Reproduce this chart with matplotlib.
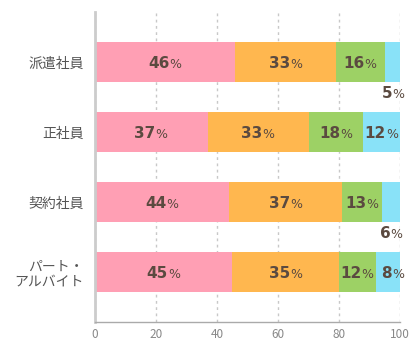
import matplotlib.pyplot as plt
import numpy as np

plt.rcParams['font.family'] = ['Noto Sans CJK JP', 'DejaVu Sans']

categories = ["派遣社員", "正社員", "契約社員", "パート・\nアルバイト"]
series = [
    [46, 37, 44, 45],
    [33, 33, 37, 35],
    [16, 18, 13, 12],
    [5, 12, 6, 8],
]
colors = ["#ff9fb4", "#ffb74f", "#9dd165", "#89e2f8"]
text_color = "#5b4a40"


def pct_label(ax, x, y, value):
    # bold number followed by a lighter, smaller percent sign
    ax.annotate(str(value), (x, y), xytext=(3, -4), textcoords="offset points",
                ha="right", va="baseline", fontsize=11, fontweight="bold",
                color=text_color, family="DejaVu Sans")
    ax.annotate("%", (x, y), xytext=(3, -4), textcoords="offset points",
                ha="left", va="baseline", fontsize=9, color=text_color,
                family="DejaVu Sans")


fig = plt.figure(figsize=(4.18, 3.45), dpi=100)
ax = fig.add_axes([95 / 418, 23 / 345, 305 / 418, 310 / 345])

ypos = np.arange(len(categories))
left = np.zeros(len(categories))
for vals, col in zip(series, colors):
    vals = np.array(vals)
    ax.barh(ypos, vals, left=left, height=0.57, color=col, zorder=2)
    for i, v in enumerate(vals):
        if v >= 8:
            pct_label(ax, left[i] + v / 2, ypos[i], v)
        else:
            # too thin: put the label under the bar
            pct_label(ax, left[i] + v / 2 - 1.5, ypos[i] + 0.44, v)
    left += vals

ax.set_xlim(0, 100)
ax.set_ylim(len(categories) - 1 + 50 / 70, -50 / 70)
ax.set_yticks(ypos)
ax.set_yticklabels(categories, fontsize=10, color="#555555", ha="right",
                   linespacing=1.1)
ax.set_xticks([0, 20, 40, 60, 80, 100])
ax.tick_params(axis="x", labelsize=8.5, colors="#888888", length=0, pad=4)
ax.tick_params(axis="y", length=0, pad=8)

ax.grid(axis="x", linestyle=(0, (2, 2.5)), color="#c8c8c8", linewidth=1,
        zorder=0)
for s in ["top", "right"]:
    ax.spines[s].set_visible(False)
ax.spines["left"].set_color("#cccccc")
ax.spines["left"].set_linewidth(2)
ax.spines["bottom"].set_color("#aaaaaa")
ax.spines["bottom"].set_linewidth(1)

fig.savefig("out.png", dpi=100)
